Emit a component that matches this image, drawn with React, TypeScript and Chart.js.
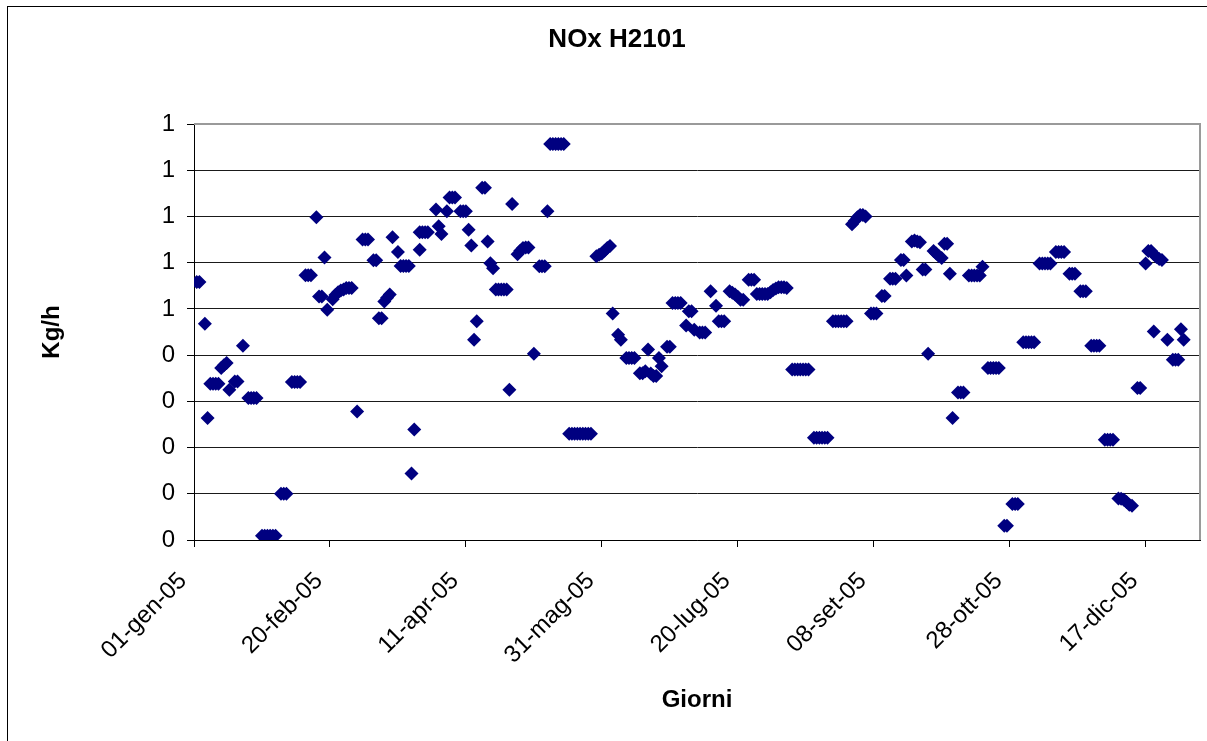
import React, { useEffect, useRef } from 'react';
import { Chart, registerables } from 'chart.js';

Chart.register(...registerables);

// Day offsets from 01-gen-05
const dayOffsets = [
  1, 2, 4, 5, 6, 7, 8, 9, 10, 11,
  12, 13, 15, 16, 18, 20, 21, 22, 23, 25,
  26, 27, 28, 29, 30, 32, 33, 34, 36, 37,
  38, 39, 41, 42, 43, 45, 46, 47, 48, 49,
  51, 52, 53, 54, 55, 56, 57, 58, 60, 62,
  63, 64, 66, 67, 68, 69, 70, 71, 72, 73,
  75, 76, 77, 78, 79, 80, 81, 83, 83, 84,
  85, 86, 89, 90, 91, 93, 94, 95, 96, 98,
  99, 100, 101, 102, 103, 104, 106, 107, 108, 109,
  110, 111, 112, 113, 114, 115, 116, 117, 119, 120,
  121, 122, 123, 125, 127, 128, 129, 130, 131, 132,
  133, 134, 135, 136, 138, 139, 140, 141, 142, 143,
  144, 145, 146, 148, 149, 150, 151, 152, 153, 154,
  156, 157, 159, 160, 161, 162, 164, 165, 166, 167,
  168, 169, 170, 171, 172, 174, 175, 176, 177, 178,
  179, 181, 182, 183, 184, 186, 187, 188, 190, 192,
  193, 194, 195, 197, 198, 199, 200, 201, 202, 204,
  205, 206, 207, 208, 209, 210, 211, 212, 213, 214,
  215, 216, 217, 218, 220, 221, 222, 223, 224, 225,
  226, 228, 229, 230, 231, 232, 233, 235, 236, 237,
  238, 239, 240, 242, 243, 244, 245, 246, 247, 249,
  250, 251, 253, 254, 256, 257, 258, 260, 261, 262,
  264, 265, 266, 267, 268, 269, 270, 272, 273, 274,
  275, 276, 277, 278, 279, 281, 282, 283, 285, 286,
  287, 288, 289, 290, 292, 293, 294, 295, 296, 298,
  299, 301, 302, 303, 305, 306, 307, 308, 309, 311,
  312, 313, 314, 315, 317, 318, 319, 320, 322, 323,
  324, 326, 327, 328, 330, 331, 332, 333, 335, 336,
  337, 338, 340, 341, 342, 343, 344, 345, 347, 348,
  350, 351, 352, 353, 353, 354, 355, 356, 358, 360,
  361, 362, 363, 364,
];

// NOx values (Kg/h)
const noxKgH = [
  0.558, 0.558, 0.468, 0.264, 0.338, 0.338, 0.338, 0.338, 0.372, 0.378,
  0.383, 0.325, 0.343, 0.343, 0.420, 0.307, 0.307, 0.307, 0.307, 0.009,
  0.009, 0.009, 0.009, 0.009, 0.009, 0.100, 0.100, 0.100, 0.342, 0.342,
  0.342, 0.342, 0.573, 0.573, 0.573, 0.698, 0.527, 0.527, 0.611, 0.498,
  0.521, 0.530, 0.536, 0.540, 0.542, 0.545, 0.545, 0.545, 0.278, 0.650,
  0.650, 0.650, 0.605, 0.605, 0.480, 0.480, 0.516, 0.524, 0.531, 0.655,
  0.623, 0.593, 0.593, 0.593, 0.593, 0.144, 0.239, 0.628, 0.666, 0.666,
  0.666, 0.666, 0.715, 0.679, 0.662, 0.711, 0.741, 0.741, 0.741, 0.711,
  0.711, 0.711, 0.671, 0.637, 0.433, 0.473, 0.762, 0.762, 0.646, 0.599,
  0.588, 0.542, 0.542, 0.542, 0.542, 0.542, 0.325, 0.727, 0.618, 0.626,
  0.632, 0.633, 0.633, 0.403, 0.592, 0.592, 0.592, 0.711, 0.857, 0.857,
  0.857, 0.857, 0.857, 0.857, 0.230, 0.230, 0.230, 0.230, 0.230, 0.230,
  0.230, 0.230, 0.230, 0.614, 0.617, 0.620, 0.626, 0.632, 0.636, 0.490,
  0.444, 0.433, 0.394, 0.394, 0.394, 0.394, 0.361, 0.361, 0.365, 0.412,
  0.360, 0.355, 0.355, 0.394, 0.376, 0.418, 0.418, 0.513, 0.513, 0.513,
  0.513, 0.464, 0.495, 0.495, 0.455, 0.449, 0.449, 0.449, 0.538, 0.507,
  0.473, 0.473, 0.473, 0.538, 0.535, 0.531, 0.526, 0.520, 0.520, 0.563,
  0.563, 0.563, 0.532, 0.532, 0.532, 0.532, 0.532, 0.536, 0.541, 0.544,
  0.547, 0.547, 0.547, 0.545, 0.369, 0.369, 0.369, 0.369, 0.369, 0.369,
  0.369, 0.221, 0.221, 0.221, 0.221, 0.221, 0.221, 0.473, 0.473, 0.473,
  0.473, 0.473, 0.473, 0.683, 0.690, 0.698, 0.703, 0.703, 0.700, 0.490,
  0.490, 0.490, 0.528, 0.528, 0.565, 0.565, 0.565, 0.606, 0.606, 0.572,
  0.646, 0.648, 0.646, 0.644, 0.585, 0.585, 0.403, 0.625, 0.620, 0.614,
  0.610, 0.641, 0.641, 0.576, 0.264, 0.319, 0.319, 0.319, 0.572, 0.572,
  0.572, 0.572, 0.572, 0.591, 0.372, 0.372, 0.372, 0.372, 0.372, 0.031,
  0.031, 0.078, 0.078, 0.078, 0.428, 0.428, 0.428, 0.428, 0.428, 0.598,
  0.598, 0.598, 0.598, 0.598, 0.623, 0.623, 0.623, 0.623, 0.576, 0.576,
  0.576, 0.538, 0.538, 0.538, 0.420, 0.420, 0.420, 0.420, 0.217, 0.217,
  0.217, 0.217, 0.090, 0.089, 0.087, 0.082, 0.076, 0.074, 0.329, 0.329,
  0.598, 0.625, 0.625, 0.618, 0.451, 0.612, 0.608, 0.606, 0.433, 0.390,
  0.390, 0.390, 0.456, 0.433,
];

const xTickLabels = [
  '01-gen-05', '20-feb-05', '11-apr-05', '31-mag-05',
  '20-lug-05', '08-set-05', '28-ott-05', '17-dic-05',
];
const yTickLabels = ['0', '0', '0', '0', '0', '1', '1', '1', '1', '1'];

const chartTitle = 'NOx H2101';
const xTitle = 'Giorni';
const yTitle = 'Kg/h';

const FONT = "'Liberation Sans', Arial, Helvetica, sans-serif";
const CANVAS_W = 1199;
const CANVAS_H = 734;

// Draws the plot-area border (grey top/right) and the chart title,
// which in the original is centred on a frame wider than the window.
const framePlugin = {
  id: 'plotFrame',
  beforeDatasetsDraw(chart: any) {
    const { ctx, chartArea } = chart;
    const { left, right, top, bottom } = chartArea;
    ctx.save();
    ctx.strokeStyle = '#9a9a9a';
    ctx.lineWidth = 2;
    ctx.beginPath();
    ctx.moveTo(left, top);
    ctx.lineTo(right, top);
    ctx.lineTo(right, bottom);
    ctx.stroke();
    ctx.restore();
  },
  afterDraw(chart: any) {
    const { ctx } = chart;
    ctx.save();
    ctx.fillStyle = '#000';
    ctx.font = `bold 26px ${FONT}`;
    ctx.textAlign = 'center';
    ctx.textBaseline = 'middle';
    ctx.fillText(chartTitle, 609, 33);
    ctx.restore();
  },
};

export default function App() {
  const canvasRef = useRef<HTMLCanvasElement | null>(null);

  useEffect(() => {
    if (!canvasRef.current) return;
    const points = dayOffsets.map((d, i) => ({ x: d, y: noxKgH[i] }));
    const chart = new Chart(canvasRef.current, {
      type: 'scatter',
      data: {
        datasets: [
          {
            label: 'NOx',
            data: points,
            pointStyle: 'rectRot',
            pointRadius: 7,
            pointHoverRadius: 7,
            backgroundColor: '#000080',
            borderColor: '#000080',
            borderWidth: 0,
            showLine: false,
          },
        ],
      },
      options: {
        animation: false,
        responsive: false,
        devicePixelRatio: 1,
        layout: { padding: { left: 0, right: 3, top: 117, bottom: 0 } },
        plugins: {
          legend: { display: false },
          tooltip: { enabled: false },
          title: { display: false },
        },
        scales: {
          x: {
            type: 'linear',
            position: 'bottom',
            min: 0,
            max: 370,
            afterFit: (scale: any) => {
              scale.height = 201;
            },
            ticks: {
              stepSize: 50,
              includeBounds: false,
              autoSkip: false,
              minRotation: 45,
              maxRotation: 45,
              padding: 20,
              labelOffset: -11,
              color: '#000',
              font: { family: FONT, size: 24 },
              callback: (v: any) => {
                const idx = Math.round(Number(v) / 50);
                return xTickLabels[idx] ?? '';
              },
            },
            grid: {
              drawOnChartArea: false,
              drawTicks: true,
              tickLength: 7,
              color: '#000',
              lineWidth: 1,
            },
            border: { color: '#000', width: 1 },
            title: {
              display: true,
              text: xTitle,
              color: '#000',
              font: { family: FONT, size: 24, weight: 'bold' },
              padding: { top: 0, bottom: 26 },
            },
          },
          y: {
            type: 'linear',
            min: 0,
            max: 0.9,
            afterFit: (scale: any) => {
              scale.width = 186;
            },
            ticks: {
              stepSize: 0.1,
              padding: 12,
              color: '#000',
              font: { family: FONT, size: 24 },
              callback: (_v: any, i: number) => yTickLabels[i] ?? '',
            },
            grid: {
              color: (ctx: any) =>
                ctx.tick && ctx.tick.value > 0.85 ? 'rgba(0,0,0,0)' : '#1a1a1a',
              tickColor: '#000',
              tickLength: 7,
              lineWidth: 1,
            },
            border: { color: '#000', width: 1 },
            title: {
              display: true,
              text: yTitle,
              color: '#000',
              font: { family: FONT, size: 24, weight: 'bold' },
              padding: { top: 30, bottom: 0 },
            },
          },
        },
      },
      plugins: [framePlugin],
    });
    return () => chart.destroy();
  }, []);

  return (
    <div
      style={{
        position: 'absolute',
        left: 7,
        top: 6,
        width: CANVAS_W + 1,
        height: CANVAS_H + 1,
        borderLeft: '1px solid #000',
        borderTop: '1px solid #000',
        boxSizing: 'border-box',
        background: '#fff',
        overflow: 'hidden',
      }}
    >
      <canvas
        ref={canvasRef}
        width={CANVAS_W}
        height={CANVAS_H}
        style={{ display: 'block', width: CANVAS_W, height: CANVAS_H }}
      />
    </div>
  );
}
